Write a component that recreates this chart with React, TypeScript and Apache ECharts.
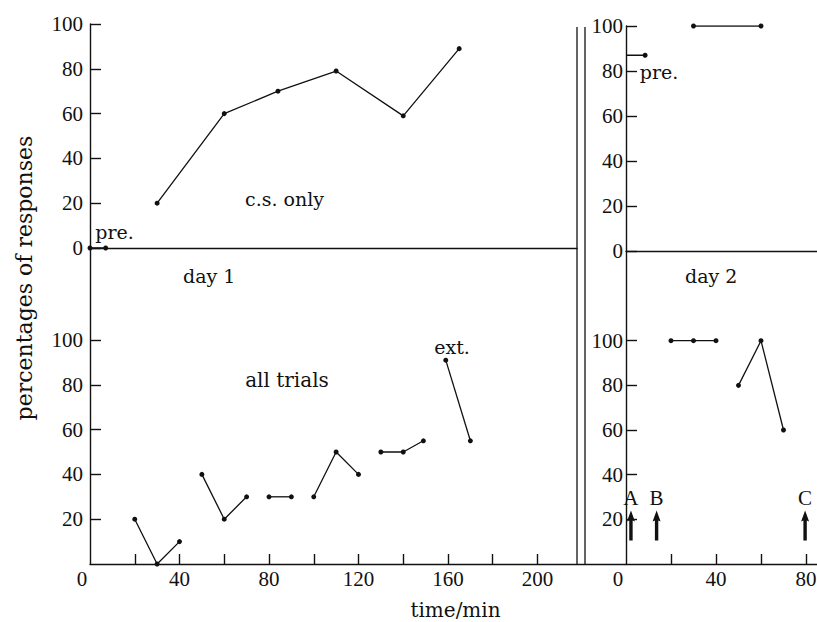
import React, { useEffect, useRef } from "react";
import * as echarts from "echarts";

// ---- data (time in min, percentage of responses) ----
const day1CsPre: number[][] = [[0, 0], [7, 0]];
const day1CsOnly: number[][] = [[30, 20], [60, 60], [84, 70], [110, 79], [140, 59], [165, 89]];
const day1AllSeg1: number[][] = [[20, 20], [30, 0], [40, 10]];
const day1AllSeg2: number[][] = [[50, 40], [60, 20], [70, 30]];
const day1AllSeg3: number[][] = [[80, 30], [90, 30]];
const day1AllSeg4: number[][] = [[100, 30], [110, 50], [120, 40]];
const day1AllSeg5: number[][] = [[130, 50], [140, 50], [149, 55]];
const day1AllExt: number[][] = [[159, 91], [170, 55]];
const day2CsPre: number[][] = [[0, 87], [8.5, 87]];
const day2CsOnly: number[][] = [[30, 100], [60, 100]];
const day2AllSeg1: number[][] = [[20, 100], [30, 100], [40, 100]];
const day2AllSeg2: number[][] = [[50, 80], [60, 100], [70, 60]];
const arrowNames = ["A", "B", "C"];
const arrowTimes = [2.2, 13.6, 79.6];
const arrowLevel = 17.2;

// ---- ticks / labels ----
const yTicks = [0, 20, 40, 60, 80, 100];
const yTicksLower = [20, 40, 60, 80, 100];
const day1XTicks = [20, 40, 60, 80, 100, 120, 140, 160, 180, 200];
const day1XLabels = [0, 40, 80, 120, 160, 200];
const day2XTicks = [20, 40, 60, 80];
const day2XLabels = [0, 40, 80];

const INK = "#111";
const NUM_FONT = "'Liberation Serif', 'Times New Roman', serif";
const TXT_FONT = "'DejaVu Serif', serif";

export default function App() {
  const ref = useRef<HTMLDivElement>(null);
  useEffect(() => {
    document.body.style.margin = "0";
    if (!ref.current) return;
    const chart = echarts.init(ref.current, undefined, { renderer: "svg" });

    const axLine = { show: true, onZero: true, lineStyle: { color: INK, width: 1.4 } };
    const numLabel = { color: INK, fontFamily: NUM_FONT, fontSize: 21 };
    const tickStyle = { color: INK, width: 1.4 };
    const zeroFmt = (v: number) => (v === 0 ? "{z|0}" : String(v));
    const zeroRich = { z: { ...numLabel, padding: [0, 16, 0, 0] } };

    const lineSeries = (data: number[][], idx: number, firstNoSymbol = false) => ({
      type: "line",
      xAxisIndex: idx,
      yAxisIndex: idx,
      data: data.map((d, i) =>
        firstNoSymbol && i === 0 ? { value: d, symbol: "none" } : { value: d }
      ),
      symbol: "circle",
      symbolSize: 5,
      lineStyle: { color: INK, width: 1.3 },
      itemStyle: { color: INK, opacity: 1 },
      silent: true,
    });

    const txt = (text: string, x: number, y: number, size = 19, align = "center") => ({
      type: "text",
      x,
      y,
      style: {
        text,
        fill: INK,
        fontFamily: TXT_FONT,
        fontSize: size,
        align,
        verticalAlign: "middle",
      },
    });

    const breakLine = (x: number) => ({
      type: "line",
      shape: { x1: x, y1: 27, x2: x, y2: 564 },
      style: { stroke: INK, lineWidth: 1.3 },
    });

    const arrowPath = "path://M4,0 L8,11 L5.7,10 L5.7,30 L2.3,30 L2.3,10 L0,11 Z";

    chart.setOption({
      animation: false,
      backgroundColor: "#fff",
      grid: [
        { left: 90, top: 24, width: 487, height: 224, outerBoundsMode: "none" },
        { left: 90, top: 248, width: 536, height: 316, outerBoundsMode: "none" },
        { left: 626, top: 26, width: 192, height: 225, outerBoundsMode: "none" },
        { left: 626, top: 251, width: 192, height: 313, outerBoundsMode: "none" },
      ],
      xAxis: [
        {
          gridIndex: 0, type: "value", min: 0, max: 487 / 2.2375,
          axisLine: axLine, axisTick: { show: false }, axisLabel: { show: false }, splitLine: { show: false },
        },
        {
          gridIndex: 1, type: "value", min: 0, max: 536 / 2.2375,
          axisLine: axLine,
          axisTick: { show: true, inside: true, length: 10, customValues: day1XTicks, lineStyle: tickStyle },
          axisLabel: { ...numLabel, margin: 4, customValues: day1XLabels, formatter: zeroFmt, rich: zeroRich },
          splitLine: { show: false },
        },
        {
          gridIndex: 2, type: "value", min: 0, max: 192 / 2.25,
          axisLine: axLine, axisTick: { show: false }, axisLabel: { show: false }, splitLine: { show: false },
        },
        {
          gridIndex: 3, type: "value", min: 0, max: 192 / 2.25,
          axisLine: axLine,
          axisTick: { show: true, inside: true, length: 10, customValues: day2XTicks, lineStyle: tickStyle },
          axisLabel: { ...numLabel, margin: 4, customValues: day2XLabels, formatter: zeroFmt, rich: zeroRich },
          splitLine: { show: false },
        },
      ],
      yAxis: [
        {
          gridIndex: 0, type: "value", min: 0, max: 100,
          axisLine: axLine,
          axisTick: { show: true, inside: true, length: 11, customValues: yTicks, lineStyle: tickStyle },
          axisLabel: { ...numLabel, margin: 7, customValues: yTicks },
          splitLine: { show: false },
        },
        {
          gridIndex: 1, type: "value", min: 0, max: 316 / 2.24,
          axisLine: axLine,
          axisTick: { show: true, inside: true, length: 11, customValues: yTicksLower, lineStyle: tickStyle },
          axisLabel: { ...numLabel, margin: 7, customValues: yTicksLower },
          splitLine: { show: false },
        },
        {
          gridIndex: 2, type: "value", min: 0, max: 100,
          axisLine: axLine,
          axisTick: { show: true, inside: true, length: 11, customValues: yTicks, lineStyle: tickStyle },
          axisLabel: { ...numLabel, margin: 3, customValues: yTicks },
          splitLine: { show: false },
        },
        {
          gridIndex: 3, type: "value", min: 0, max: 313 / 2.233,
          axisLine: axLine,
          axisTick: { show: true, inside: true, length: 11, customValues: yTicksLower, lineStyle: tickStyle },
          axisLabel: { ...numLabel, margin: 3, customValues: yTicksLower },
          splitLine: { show: false },
        },
      ],
      series: [
        lineSeries(day1CsPre, 0),
        lineSeries(day1CsOnly, 0),
        lineSeries(day1AllSeg1, 1),
        lineSeries(day1AllSeg2, 1),
        lineSeries(day1AllSeg3, 1),
        lineSeries(day1AllSeg4, 1),
        lineSeries(day1AllSeg5, 1),
        lineSeries(day1AllExt, 1),
        lineSeries(day2CsPre, 2, true),
        lineSeries(day2CsOnly, 2),
        lineSeries(day2AllSeg1, 3),
        lineSeries(day2AllSeg2, 3),
        {
          type: "scatter",
          xAxisIndex: 3,
          yAxisIndex: 3,
          symbol: arrowPath,
          symbolSize: [8, 30],
          itemStyle: { color: INK, opacity: 1 },
          silent: true,
          data: arrowNames.map((n, i) => ({ name: n, value: [arrowTimes[i], arrowLevel] })),
          label: {
            show: true,
            position: "top",
            distance: 2.5,
            formatter: (p: any) => p.name,
            color: INK,
            opacity: 1,
            fontFamily: NUM_FONT,
            fontSize: 21,
          },
        },
      ],
      graphic: [
        breakLine(577),
        breakLine(585),
        txt("c.s. only", 245, 199, 19, "left"),
        txt("day 1", 183, 276, 19, "left"),
        txt("all trials", 287, 380, 20),
        txt("pre.", 114.5, 232, 19),
        txt("ext.", 452, 347, 19),
        txt("pre.", 659, 71.5, 19),
        txt("day 2", 685, 276, 19, "left"),
        txt("time/min", 455.5, 610, 20),
        {
          type: "text",
          x: 24,
          y: 278,
          rotation: Math.PI / 2,
          style: {
            text: "percentages of responses",
            fill: INK,
            fontFamily: TXT_FONT,
            fontSize: 22,
            align: "center",
            verticalAlign: "middle",
          },
        },
      ],
    });
    return () => chart.dispose();
  }, []);
  return <div ref={ref} style={{ width: 817, height: 622 }} />;
}
